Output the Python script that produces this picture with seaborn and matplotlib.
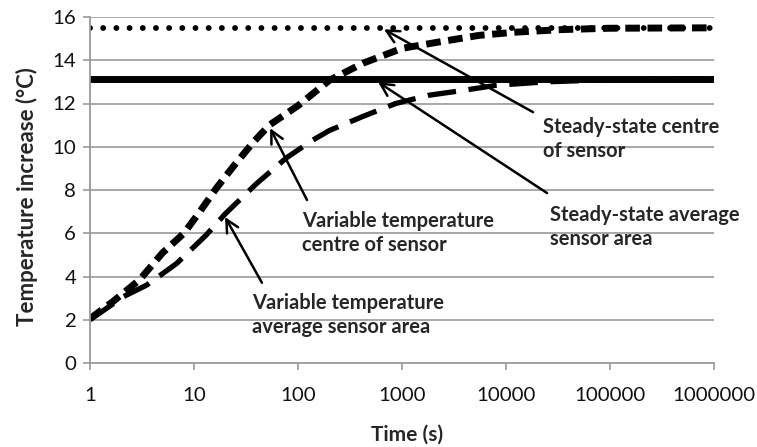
import numpy as np
import pandas as pd
import matplotlib
matplotlib.use("Agg")
import matplotlib.pyplot as plt
import seaborn as sns

# ---- data ----
centre_time = [1, 1.66, 3, 5, 8, 11, 16.5, 24, 37, 53, 100, 200, 420, 1000, 2300,
               5500, 12500, 35000, 100000, 1000000]
centre_temp = [2.05, 2.84, 3.85, 5.1, 6.0, 6.9, 8.1, 9.1, 10.2, 11.0, 11.9, 13.07,
               13.86, 14.55, 14.85, 15.15, 15.3, 15.42, 15.48, 15.5]

average_time = [1, 2.1, 3.5, 6.8, 13, 20, 40, 78, 138, 200, 420, 870, 1800, 3800,
                8000, 24000, 100000, 1000000]
average_temp = [2.0, 3.07, 3.6, 4.6, 5.9, 6.9, 8.3, 9.5, 10.3, 10.75, 11.4, 12.0,
                12.38, 12.6, 12.84, 13.0, 13.1, 13.15]

steady_time = [1, 1000000]
steady_centre = [15.5, 15.5]
steady_average = [13.15, 13.15]

x_ticks = [1, 10, 100, 1000, 10000, 100000, 1000000]
x_tick_labels = ["1", "10", "100", "1000", "10000", "100000", "1000000"]
y_ticks = [0, 2, 4, 6, 8, 10, 12, 14, 16]

labels = ["Steady-state centre\nof sensor",
          "Steady-state average\nsensor area",
          "Variable temperature\ncentre of sensor",
          "Variable temperature\naverage sensor area"]

sns.set_theme(style="white")
plt.rcParams['font.family'] = ['Lato', 'DejaVu Sans']

fig = plt.figure(figsize=(7.57, 4.47), dpi=100)
ax = fig.add_axes([90/757, 1-363/447, (714-90)/757, (363-17)/447])

grid_c = "#9a9a9a"
for yv in y_ticks[1:]:
    ax.axhline(yv, color=grid_c, lw=1.2, zorder=0)

sns.lineplot(x=steady_time, y=steady_centre, ax=ax, color="black", lw=4.2,
             linestyle=(0, (0.01, 2.25)))
ax.lines[-1].set_dash_capstyle("round")
sns.lineplot(x=steady_time, y=steady_average, ax=ax, color="black", lw=5)
sns.lineplot(x=average_time, y=average_temp, ax=ax, color="black", lw=3.8,
             linestyle=(0, (5.4, 2.4)))
sns.lineplot(x=centre_time, y=centre_temp, ax=ax, color="black", lw=5,
             linestyle=(0, (2.1, 1.1)))

ax.set_xscale("log")
ax.set_xlim(1, 1000000)
ax.set_ylim(0, 16)
ax.set_xticks(x_ticks)
ax.set_xticklabels(x_tick_labels)
ax.minorticks_off()
ax.set_yticks(y_ticks)
ax.tick_params(axis="both", labelsize=14.7, length=5,
               width=1.2, direction="out", bottom=True, left=True, pad=5)
ax.tick_params(axis="x", pad=12, color=grid_c)
ax.tick_params(axis="y", color=grid_c)
for lab in ax.get_xticklabels() + ax.get_yticklabels():
    lab.set_color("#111111")
for s in ["top", "right"]:
    ax.spines[s].set_visible(False)
for s in ["left", "bottom"]:
    ax.spines[s].set_color(grid_c)
    ax.spines[s].set_linewidth(1.3)

ax.set_xlabel("Time (s)", fontsize=15, fontweight="bold")
ax.set_ylabel("Temperature increase (°C)", fontsize=16, fontweight="bold")
ax.xaxis.set_label_coords((407-90)/624, -(435-363)/346)
ax.yaxis.set_label_coords(-(90-27)/624, (363-197)/346)
ax.xaxis.label.set_va("center")
ax.yaxis.label.set_va("center")

arrow_kw = dict(arrowstyle="->,head_length=0.75,head_width=0.38", color="black", lw=1.8,
                shrinkA=0, shrinkB=0)
arrows = [((671, 15.43), (18200, 11.6)),
          ((589, 12.99), (24800, 7.86)),
          ((53.9, 10.86), (122, 7.54)),
          ((19.9, 6.75), (45, 3.71))]
for tip, tail in arrows:
    ax.annotate("", xy=tip, xytext=tail, arrowprops=arrow_kw)

text_pos = [(543, 117), (550, 205), (302, 211), (252, 293)]
for (px, py), t in zip(text_pos, labels):
    fig.text(px/757, 1-py/447, t, fontsize=14.5, fontweight="bold", ha="left",
             va="top", linespacing=1.28)

fig.savefig("out.png", dpi=100)
